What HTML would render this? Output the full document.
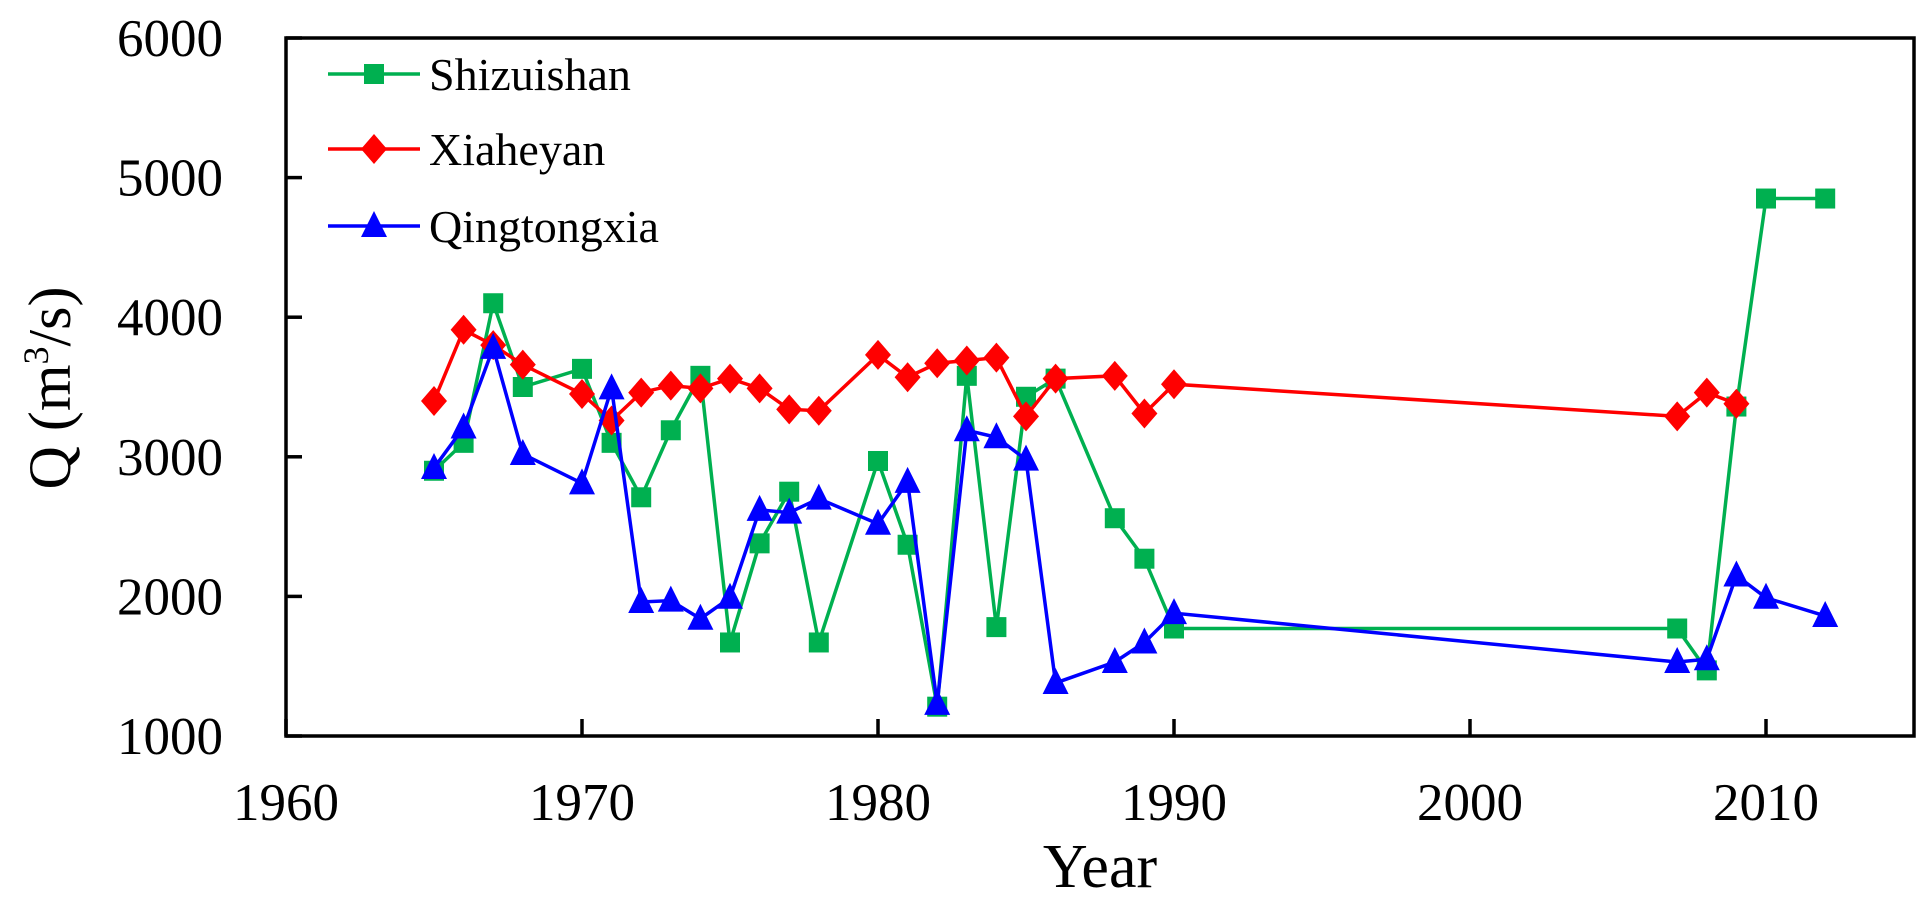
<!DOCTYPE html>
<html><head><meta charset="utf-8"><style>
html,body{margin:0;padding:0;background:#fff;}
svg{display:block;font-family:"Liberation Serif",serif;}
</style></head><body>
<svg id="s" width="1932" height="906" xmlns="http://www.w3.org/2000/svg"></svg>
<script>
const s=document.getElementById('s');
const L=286,R=1914,T=38,B=736;
const X=y=>L+(y-1960)*(R-L)/55, Y=v=>B-(v-1000)*(B-T)/5000;
let h='';
h+=`<rect x="${L}" y="${T}" width="${R-L}" height="${B-T}" fill="none" stroke="#000" stroke-width="3.5"/>`;
for(let v=1000;v<=6000;v+=1000){const y=Y(v);h+=`<line x1="${L}" x2="${L+16}" y1="${y}" y2="${y}" stroke="#000" stroke-width="3.5"/>`;
h+=`<text x="223" y="${y+18}" font-size="53" text-anchor="end">${v}</text>`;}
for(let yr=1960;yr<=2010;yr+=10){const x=X(yr);h+=`<line x1="${x}" x2="${x}" y1="${B}" y2="${B-17}" stroke="#000" stroke-width="3.5"/>`;
h+=`<text x="${x}" y="820" font-size="53" text-anchor="middle">${yr}</text>`;}
h+=`<text x="${(L+R)/2}" y="887" font-size="62" text-anchor="middle">Year</text>`;
h+=`<text transform="translate(70,388) rotate(-90)" font-size="60" text-anchor="middle">Q (m<tspan font-size="36" dy="-22">3</tspan><tspan dy="22">/s)</tspan></text>`;
const S=[[1965,2900],[1966,3100],[1967,4100],[1968,3500],[1970,3630],[1971,3100],[1972,2710],[1973,3190],[1974,3580],[1975,1670],[1976,2380],[1977,2750],[1978,1670],[1980,2970],[1981,2370],[1982,1210],[1983,3580],[1984,1780],[1985,3430],[1986,3560],[1988,2560],[1989,2270],[1990,1770],[2007,1770],[2008,1470],[2009,3360],[2010,4850],[2012,4850]];
const Xh=[[1965,3400],[1966,3910],[1967,3800],[1968,3660],[1970,3450],[1971,3260],[1972,3460],[1973,3510],[1974,3490],[1975,3560],[1976,3490],[1977,3340],[1978,3330],[1980,3730],[1981,3570],[1982,3670],[1983,3690],[1984,3710],[1985,3290],[1986,3560],[1988,3580],[1989,3310],[1990,3520],[2007,3290],[2008,3460],[2009,3380]];
const Q=[[1965,2920],[1966,3210],[1967,3780],[1968,3020],[1970,2810],[1971,3490],[1972,1960],[1973,1970],[1974,1840],[1975,1990],[1976,2620],[1977,2600],[1978,2700],[1980,2520],[1981,2820],[1982,1230],[1983,3190],[1984,3140],[1985,2980],[1986,1380],[1988,1530],[1989,1670],[1990,1880],[2007,1530],[2008,1550],[2009,2150],[2010,1990],[2012,1860]];
function mk(t,x,y,c){
 if(t==='s')return `<rect x="${x-10}" y="${y-10}" width="20" height="20" fill="${c}"/>`;
 if(t==='d')return `<polygon points="${x},${y-15} ${x+13},${y} ${x},${y+15} ${x-13},${y}" fill="${c}"/>`;
 return `<polygon points="${x},${y-15} ${x+13},${y+11} ${x-13},${y+11}" fill="${c}"/>`;}
function ser(d,c,t){let p=d.map(a=>X(a[0])+','+Y(a[1])).join(' ');
 let o=`<polyline points="${p}" fill="none" stroke="${c}" stroke-width="3.5"/>`;
 d.forEach(a=>o+=mk(t,X(a[0]),Y(a[1]),c));return o;}
h+=ser(S,'#00b050','s');h+=ser(Xh,'#ff0000','d');h+=ser(Q,'#0000ff','t');
const lg=[['Shizuishan','#00b050','s',74],['Xiaheyan','#ff0000','d',149],['Qingtongxia','#0000ff','t',226]];
lg.forEach(l=>{h+=`<line x1="328" x2="420" y1="${l[3]}" y2="${l[3]}" stroke="${l[1]}" stroke-width="3.5"/>`+mk(l[2],374,l[3],l[1])+`<text x="429" y="${l[3]+16}" font-size="46">${l[0]}</text>`;});
s.innerHTML=h;
</script>
</body></html>
